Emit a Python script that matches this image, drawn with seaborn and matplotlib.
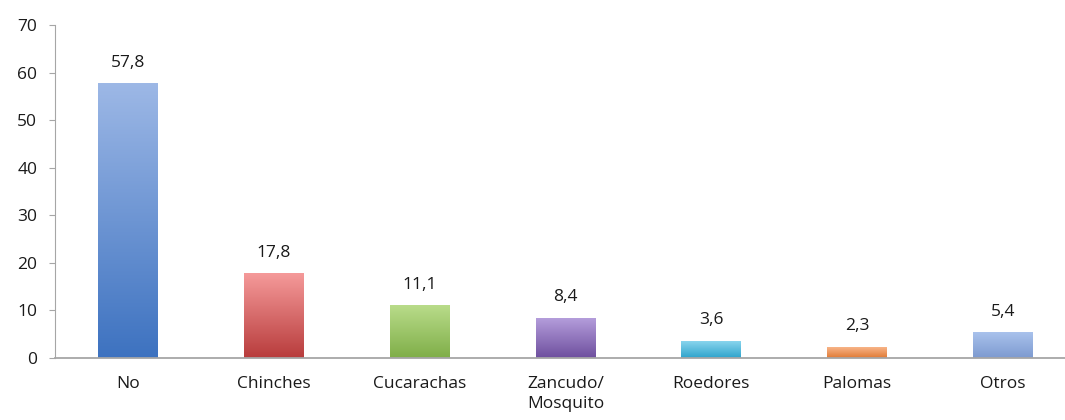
import numpy as np
import pandas as pd
import matplotlib
matplotlib.use("Agg")
import matplotlib.pyplot as plt
import matplotlib.colors as mcolors
import seaborn as sns

categorias = ["No", "Chinches", "Cucarachas", "Zancudo/\nMosquito", "Roedores", "Palomas", "Otros"]
valores = [57.8, 17.8, 11.1, 8.4, 3.6, 2.3, 5.4]
etiquetas = ["57,8", "17,8", "11,1", "8,4", "3,6", "2,3", "5,4"]
# (top, bottom) colours of the gradient for each bar
colores = [("#9db8e6", "#3d72c0"), ("#f59a9a", "#b83c3c"), ("#b9dc8a", "#7fae48"),
           ("#b49ddb", "#6e4f9e"), ("#8ed8ef", "#2ea3cc"), ("#f8b488", "#e07a34"),
           ("#a9c2ec", "#7d9ad0")]

sns.set_style("white")
plt.rcParams['font.family'] = ['Open Sans', 'DejaVu Sans']

df = pd.DataFrame({"cat": categorias, "val": valores})

fig = plt.figure(figsize=(10.65, 4.2), dpi=100)
ax = fig.add_axes([0.052, 0.148, 0.958, 0.792])
sns.barplot(data=df, x="cat", y="val", width=0.41, color="#4f81bd", ax=ax)

ax.set_ylim(0, 70)
ax.set_yticks(range(0, 71, 10))
ax.set_xlim(-0.5, len(categorias) - 0.5)

# gradient fill for each bar
for patch, (c_top, c_bot) in zip(ax.patches, colores):
    x0, y0 = patch.get_x(), patch.get_y()
    w, h = patch.get_width(), patch.get_height()
    cmap = mcolors.LinearSegmentedColormap.from_list("g", [c_bot, c_top])
    grad = np.linspace(0, 1, 256).reshape(-1, 1)
    im = ax.imshow(grad, extent=[x0, x0 + w, y0, y0 + h], origin="lower",
                   aspect="auto", cmap=cmap, zorder=patch.get_zorder())
    im.set_clip_path(patch)
    patch.set_facecolor("none")
    patch.set_edgecolor("none")

fs = 12.5
for i, (v, t) in enumerate(zip(valores, etiquetas)):
    ax.annotate(t, (i, v), xytext=(0, 9), textcoords="offset points",
                ha="center", va="bottom", fontsize=fs, color="#1a1a1a")

ax.set_xlabel("")
ax.set_ylabel("")
sns.despine(ax=ax, top=True, right=True)
ax.spines["left"].set_color("#a6a6a6")
ax.spines["bottom"].set_color("#a6a6a6")
ax.spines["bottom"].set_linewidth(1.3)
ax.tick_params(axis="y", length=4, color="#a6a6a6", labelsize=fs, labelcolor="#1a1a1a",
               left=True, pad=9)
ax.tick_params(axis="x", length=0, labelsize=fs, labelcolor="#1a1a1a", pad=13)
for lbl in ax.get_xticklabels():
    lbl.set_linespacing(1.35)

fig.savefig("out.png", dpi=100)
